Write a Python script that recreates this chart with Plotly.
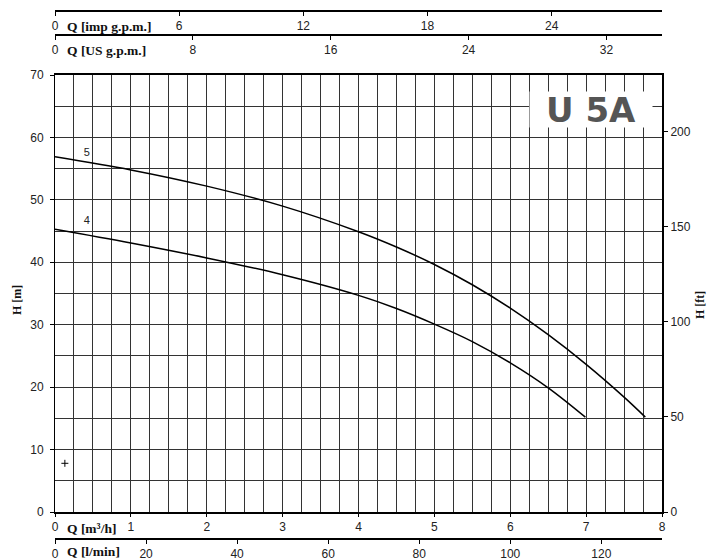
import plotly.graph_objects as go

# ---------------- data ----------------
Q5 = [0.0, 1.0, 2.0, 3.0, 4.0, 4.5, 5.0, 5.5, 6.0, 6.5, 7.0, 7.5, 7.78]
H5 = [56.9, 54.8, 52.2, 49.0, 44.9, 42.45, 39.65, 36.4, 32.65, 28.4, 23.65, 18.4, 15.2]
Q4 = [0.0, 1.0, 2.0, 3.0, 4.0, 4.5, 5.0, 5.5, 6.0, 6.5, 6.99]
H4 = [45.3, 43.1, 40.7, 38.0, 34.7, 32.6, 30.1, 27.3, 23.9, 19.9, 15.2]
curve_labels = ["5", "4"]
label_Q = [0.42, 0.42]
label_H = [57.4, 46.5]
point_Q = [0.13]
point_H = [7.8]

m3h_ticks = [0, 1, 2, 3, 4, 5, 6, 7, 8]
lmin_ticks = [0, 20, 40, 60, 80, 100, 120]
imp_ticks = [0, 6, 12, 18, 24]
us_ticks = [0, 8, 16, 24, 32]
hm_ticks = [0, 10, 20, 30, 40, 50, 60, 70]
hft_ticks = [0, 50, 100, 150, 200]

Q_MAX = 8.0
H_MAX = 70.0
LMIN = 1000.0 / 60.0
IMP = 3.66614
USG = 4.40287
FT = 3.28084

# ---------------- layout helpers ----------------
W, HH = 709, 560
ML = 55
MR = W - 662
PW = W - ML - MR


def px(x):
    return (x - ML) / PW


def py(y):
    return 1 - y / HH


TICKFONT = dict(family="Liberation Sans, Arial", size=12, color="#222")
LABFONT = dict(family="Liberation Serif, Times New Roman", size=13.5, color="#111")
GRID = "#333333"

fig = go.Figure()

fig.add_trace(go.Scatter(x=Q5, y=H5, mode="lines", line=dict(color="black", width=1.5, shape="spline"),
                         showlegend=False, hoverinfo="skip"))
fig.add_trace(go.Scatter(x=Q4, y=H4, mode="lines", line=dict(color="black", width=1.5, shape="spline"),
                         showlegend=False, hoverinfo="skip"))
fig.add_trace(go.Scatter(x=label_Q, y=label_H, mode="text", text=curve_labels,
                         textfont=dict(family="Liberation Sans, Arial", size=11, color="#222"),
                         showlegend=False, hoverinfo="skip"))
fig.add_trace(go.Scatter(x=point_Q, y=point_H, mode="markers",
                         marker=dict(symbol="cross-thin", size=5, line=dict(width=1, color="black")),
                         showlegend=False, hoverinfo="skip"))
# helper traces so secondary axes are drawn
for xa, ya in [("x2", "y"), ("x3", "y"), ("x4", "y"), ("x", "y2")]:
    fig.add_trace(go.Scatter(x=[0], y=[0], xaxis=xa, yaxis=ya, mode="markers",
                             marker=dict(opacity=0), showlegend=False, hoverinfo="skip"))

ydom = [py(512), py(75)]

common_x = dict(ticks="outside", ticklen=4, tickcolor="black", tickfont=TICKFONT,
                showline=True, linecolor="black", linewidth=1.5, showgrid=False,
                zeroline=False, automargin=False, tickmode="array")

fig.update_layout(
    width=W, height=HH,
    margin=dict(l=ML, r=MR, t=0, b=0, autoexpand=False),
    paper_bgcolor="white", plot_bgcolor="white",
    xaxis=dict(domain=[0, 1], range=[0, Q_MAX], anchor="y", tickmode="array", tickvals=m3h_ticks,
               ticks="outside", ticklen=3, tickcolor="black", tickfont=TICKFONT,
               showline=True, linecolor="black", linewidth=2, mirror=True, automargin=False,
               showgrid=True, gridcolor=GRID, gridwidth=1, zeroline=False,
               minor=dict(tick0=0, dtick=0.25, showgrid=True, gridcolor=GRID, gridwidth=1, ticks="")),
    yaxis=dict(domain=ydom, range=[0, H_MAX], anchor="x", tickmode="array", tickvals=hm_ticks,
               ticks="outside", ticklen=4, tickcolor="black", tickfont=TICKFONT,
               ticklabelstandoff=4, automargin=False,
               showline=True, linecolor="black", linewidth=1,
               showgrid=True, gridcolor=GRID, gridwidth=1, zeroline=False,
               minor=dict(tick0=0, dtick=5, showgrid=True, gridcolor=GRID, gridwidth=1, ticks="")),
    yaxis2=dict(overlaying="y", side="right", anchor="x", range=[0, H_MAX * FT], tickmode="array",
                tickvals=hft_ticks, ticks="outside", ticklen=4, tickcolor="black", tickfont=TICKFONT,
                automargin=False,
                showline=True, linecolor="black", linewidth=2, showgrid=False, zeroline=False),
    xaxis2=dict(overlaying="x", anchor="free", position=py(539), side="bottom",
                range=[0, Q_MAX * LMIN], tickvals=lmin_ticks, **common_x),
    xaxis3=dict(overlaying="x", anchor="free", position=py(11), side="bottom",
                range=[0, Q_MAX * IMP], tickvals=imp_ticks, **common_x),
    xaxis4=dict(overlaying="x", anchor="free", position=py(35), side="bottom",
                range=[0, Q_MAX * USG], tickvals=us_ticks, **common_x),
)

anns = [
    dict(text="<b>Q [imp g.p.m.]</b>", x=px(65), y=py(26)),
    dict(text="<b>Q [US g.p.m.]</b>", x=px(65), y=py(50)),
    dict(text="<b>Q [m³/h]</b>", x=px(65), y=py(528)),
    dict(text="<b>Q [l/min]</b>", x=px(65), y=py(551)),
]
for a in anns:
    fig.add_annotation(text=a["text"], x=a["x"], y=a["y"], xref="paper", yref="paper",
                       xanchor="left", yanchor="middle", showarrow=False, font=LABFONT)

fig.add_annotation(text="<b>H [m]</b>", x=px(17), y=py(300), xref="paper", yref="paper",
                   xanchor="center", yanchor="middle",
                   textangle=-90, showarrow=False, font=dict(LABFONT, size=12))
fig.add_annotation(text="<b>H [ft]</b>", x=px(700), y=py(305), xref="paper", yref="paper",
                   xanchor="center", yanchor="middle",
                   textangle=-90, showarrow=False, font=dict(LABFONT, size=12))

fig.add_annotation(text="<b>U 5A</b>", x=px(591), y=py(110), xref="paper", yref="paper",
                   xanchor="center", yanchor="middle",
                   width=120, height=33, bgcolor="white", showarrow=False, align="center",
                   font=dict(family="DejaVu Sans", size=34, color="#555555"))

fig.write_html("out.html", config={"displayModeBar": False},
               post_script="document.body.style.margin='0px';document.body.style.overflow='hidden';")
